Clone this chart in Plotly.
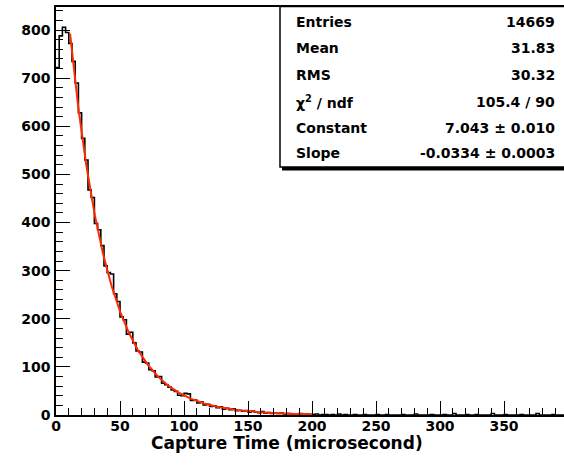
import numpy as np
import plotly.graph_objects as go

# ---- data ----
bin_width = 2.5
counts = [
    722, 788, 806, 795, 772, 735, 690, 628, 575, 530,
    468, 452, 398, 385, 352, 310, 296, 293, 252, 236,
    204, 198, 168, 172, 150, 133, 131, 110, 108, 94,
    92, 79, 80, 66, 63, 58, 52, 49, 41, 40,
    45, 44, 30, 31, 25, 27, 21, 22, 18, 19,
    15, 17, 12, 14, 11, 13, 9, 10, 8, 9,
    6, 8, 6, 5, 7, 4, 5, 3, 4, 3,
    4, 2, 3, 2, 2, 1, 3, 1, 2, 1,
    1, 2, 0, 1, 1, 0, 1, 0, 2, 0,
    1, 0, 0, 1, 0, 0, 1, 0, 0, 0,
    1, 0, 0, 1, 0, 0, 0, 0, 1, 0,
    0, 0, 2, 0, 0, 0, 0, 1, 0, 0,
    0, 1, 0, 0, 3, 0, 0, 0, 1, 0,
    0, 1, 0, 0, 0, 0, 3, 0, 0, 0,
    1, 0, 0, 0, 0, 1, 0, 0, 0, 0,
    3, 0, 0, 0, 0, 1, 0, 0, 0, 0,
]
fit_constant = 7.043
fit_slope = -0.0334
fit_range = [11, 200]

stats_labels = ["Entries", "Mean", "RMS", "χ<sup>2</sup> / ndf", "Constant", "Slope"]
stats_values = ["14669", "31.83", "30.32", "105.4 / 90", "7.043 ± 0.010", "-0.0334 ± 0.0003"]

x_title = "Capture Time (microsecond)"
x_ticks = [0, 50, 100, 150, 200, 250, 300, 350]
y_ticks = [0, 100, 200, 300, 400, 500, 600, 700, 800]

# ---- figure geometry ----
W, H = 564, 470
L, R, T, B = 56, 0, 7, 55
pw, ph = W - L - R, H - T - B
x_max = pw / 1.28
y_max = 848

def px_to_paper_x(px):
    return (px - L) / pw

def py_to_paper_y(py):
    return (H - B - py) / ph

# histogram step line
edges = [i * bin_width for i in range(len(counts) + 1)]
hx = edges
hy = counts + [counts[-1]]

fx = np.linspace(fit_range[0], fit_range[1], 400)
fy = np.exp(fit_constant + fit_slope * fx)

font_fam = "DejaVu Sans, Arial, sans-serif"

fig = go.Figure()
fig.add_trace(go.Scatter(x=hx, y=hy, mode="lines", line=dict(shape="hv", color="black", width=1.6),
                         hoverinfo="skip", showlegend=False))
fig.add_trace(go.Scatter(x=fx, y=fy, mode="lines", line=dict(color="#ff2a00", width=2),
                         hoverinfo="skip", showlegend=False))

axis_font = dict(family=font_fam, size=14, color="black", weight="bold")
fig.update_xaxes(range=[0, x_max], showgrid=False, zeroline=False, showline=True, linecolor="black",
                 linewidth=1.5, mirror=True, ticks="inside", ticklen=14, tickwidth=1.3, tickcolor="black",
                 tickmode="array", tickvals=x_ticks, ticktext=[str(v) for v in x_ticks],
                 tickfont=axis_font, ticklabelstandoff=-3,
                 minor=dict(dtick=10, tick0=0, ticks="inside", ticklen=7, tickwidth=1.3, tickcolor="black"))
fig.update_yaxes(range=[0, y_max], showgrid=False, zeroline=False, showline=True, linecolor="black",
                 linewidth=1.5, mirror=False, ticks="inside", ticklen=14, tickwidth=1.3, tickcolor="black",
                 tickmode="array", tickvals=y_ticks, ticktext=[str(v) for v in y_ticks],
                 tickfont=axis_font, ticklabelstandoff=1,
                 minor=dict(dtick=20, tick0=0, ticks="inside", ticklen=7, tickwidth=1.3, tickcolor="black"))

shapes = []
# stats box shadow and box
shapes.append(dict(type="rect", xref="paper", yref="paper",
                   x0=px_to_paper_x(282), x1=px_to_paper_x(575),
                   y0=py_to_paper_y(170.5), y1=py_to_paper_y(9),
                   fillcolor="black", line=dict(width=0), layer="above"))
shapes.append(dict(type="rect", xref="paper", yref="paper",
                   x0=px_to_paper_x(280), x1=px_to_paper_x(575),
                   y0=py_to_paper_y(167), y1=py_to_paper_y(6.5),
                   fillcolor="white", line=dict(color="black", width=1.5), layer="above"))

annotations = []
row_y = [22, 48, 75, 102, 128, 153]
stat_font = dict(family=font_fam, size=14, color="black", weight="bold")
for lab, val, ry in zip(stats_labels, stats_values, row_y):
    annotations.append(dict(x=px_to_paper_x(294), y=py_to_paper_y(ry), xref="paper", yref="paper",
                            text=lab, showarrow=False, xanchor="left", yanchor="middle", font=stat_font))
    annotations.append(dict(x=px_to_paper_x(557), y=py_to_paper_y(ry), xref="paper", yref="paper",
                            text=val, showarrow=False, xanchor="right", yanchor="middle", font=stat_font))
annotations.append(dict(x=px_to_paper_x(287), y=py_to_paper_y(443), xref="paper", yref="paper",
                        text=x_title, showarrow=False, xanchor="center", yanchor="middle",
                        font=dict(family=font_fam, size=17, color="black", weight="bold")))

fig.update_layout(width=W, height=H, margin=dict(l=L, r=R, t=T, b=B, pad=0),
                  paper_bgcolor="white", plot_bgcolor="white",
                  shapes=shapes, annotations=annotations, showlegend=False)

fig.write_html("out.html", config={"displayModeBar": False},
               post_script="document.body.style.margin='0';document.body.style.overflow='hidden';")
